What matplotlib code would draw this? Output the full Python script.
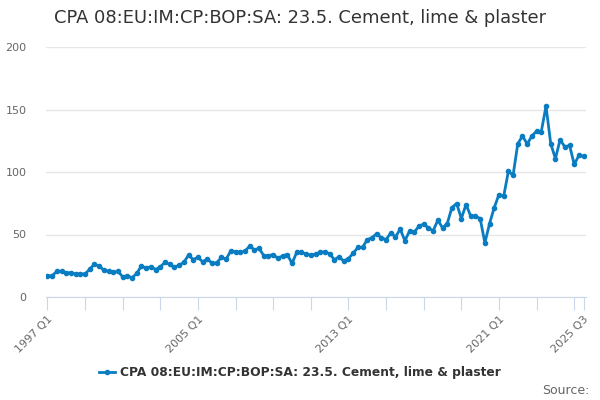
import matplotlib
matplotlib.use("Agg")
import matplotlib.pyplot as plt

title = "CPA 08:EU:IM:CP:BOP:SA: 23.5. Cement, lime & plaster"

# quarterly values, 1997 Q1 .. 2025 Q3
values = [
    17.0, 17.0, 20.5, 20.5, 19.4, 19.4, 18.4, 18.4, 18.4, 22.3,
    26.3, 24.7, 21.5, 20.5, 19.7, 20.5, 16.2, 17.0, 15.4, 18.9,
    25.0, 22.9, 24.2, 22.0, 24.2, 27.7, 26.1, 23.7, 25.5, 27.7,
    33.5, 30.0, 31.7, 28.2, 30.3, 27.1, 27.4, 31.7, 30.3, 37.0,
    36.1, 35.7, 36.7, 40.7, 37.8, 38.9, 33.0, 33.0, 34.0, 30.9,
    33.0, 34.0, 26.9, 35.7, 35.7, 34.3, 33.5, 34.3, 35.7, 36.2,
    34.6, 29.8, 32.2, 28.7, 30.8, 34.9, 39.7, 39.7, 46.0, 47.3,
    50.8, 47.3, 46.0, 51.3, 48.1, 54.3, 45.0, 52.9, 52.0, 56.7,
    58.3, 55.3, 52.9, 61.5, 55.3, 58.8, 71.6, 74.8, 62.8, 74.0,
    64.6, 64.6, 62.8, 43.3, 58.8, 71.6, 82.0, 80.6, 100.6, 97.4,
    122.7, 128.8, 122.4, 128.8, 132.7, 132.4, 152.7, 122.7, 110.7, 125.9,
    120.0, 121.3, 106.1, 113.3, 112.5,
]

labels = []
for i in range(len(values)):
    labels.append("%d Q%d" % (1997 + i // 4, i % 4 + 1))

shown = ["1997 Q1", "2005 Q1", "2013 Q1", "2021 Q1", "2025 Q3"]

blue = "#0a7cc1"
grey = "#666666"

fig = plt.figure(figsize=(6, 4), dpi=100)
ax = fig.add_axes([46 / 600, 103 / 400, 540 / 600, 250 / 400])

xs = list(range(len(values)))
ax.plot(xs, values, color=blue, lw=2, marker="o", ms=3,
        label=title)

ax.set_xlim(-0.3, len(values) - 0.5)
ax.set_ylim(0, 200)
ax.set_yticks([0, 50, 100, 150, 200])
ax.tick_params(axis="y", length=0, labelsize=8, labelcolor=grey, pad=14)
ax.grid(axis="y", color="#e6e6e6", lw=1)
ax.set_axisbelow(True)

ticks = list(range(0, len(values), 8)) + [len(values) - 1]
ax.set_xticks(ticks)
ax.set_xticklabels([labels[t] if labels[t] in shown else "" for t in ticks],
                   rotation=45, ha="right", rotation_mode="anchor")
ax.tick_params(axis="x", length=9, color="#ccd6eb", labelsize=8,
               labelcolor=grey, pad=3)

for side in ["top", "right", "left"]:
    ax.spines[side].set_visible(False)
ax.spines["bottom"].set_color("#ccd6eb")

fig.text(0.5, 0.955, title, ha="center", va="center", fontsize=12.9,
         color="#333333")

fig.legend(loc="center", bbox_to_anchor=(0.5, 0.068), frameon=False,
           handlelength=1.3, handletextpad=0.4,
           prop={"size": 8.8, "weight": "bold"}, labelcolor="#333333")

fig.text(0.983, 0.025, "Source:", ha="right", va="center", fontsize=9,
         color=grey)

fig.savefig("out.png", dpi=100)
